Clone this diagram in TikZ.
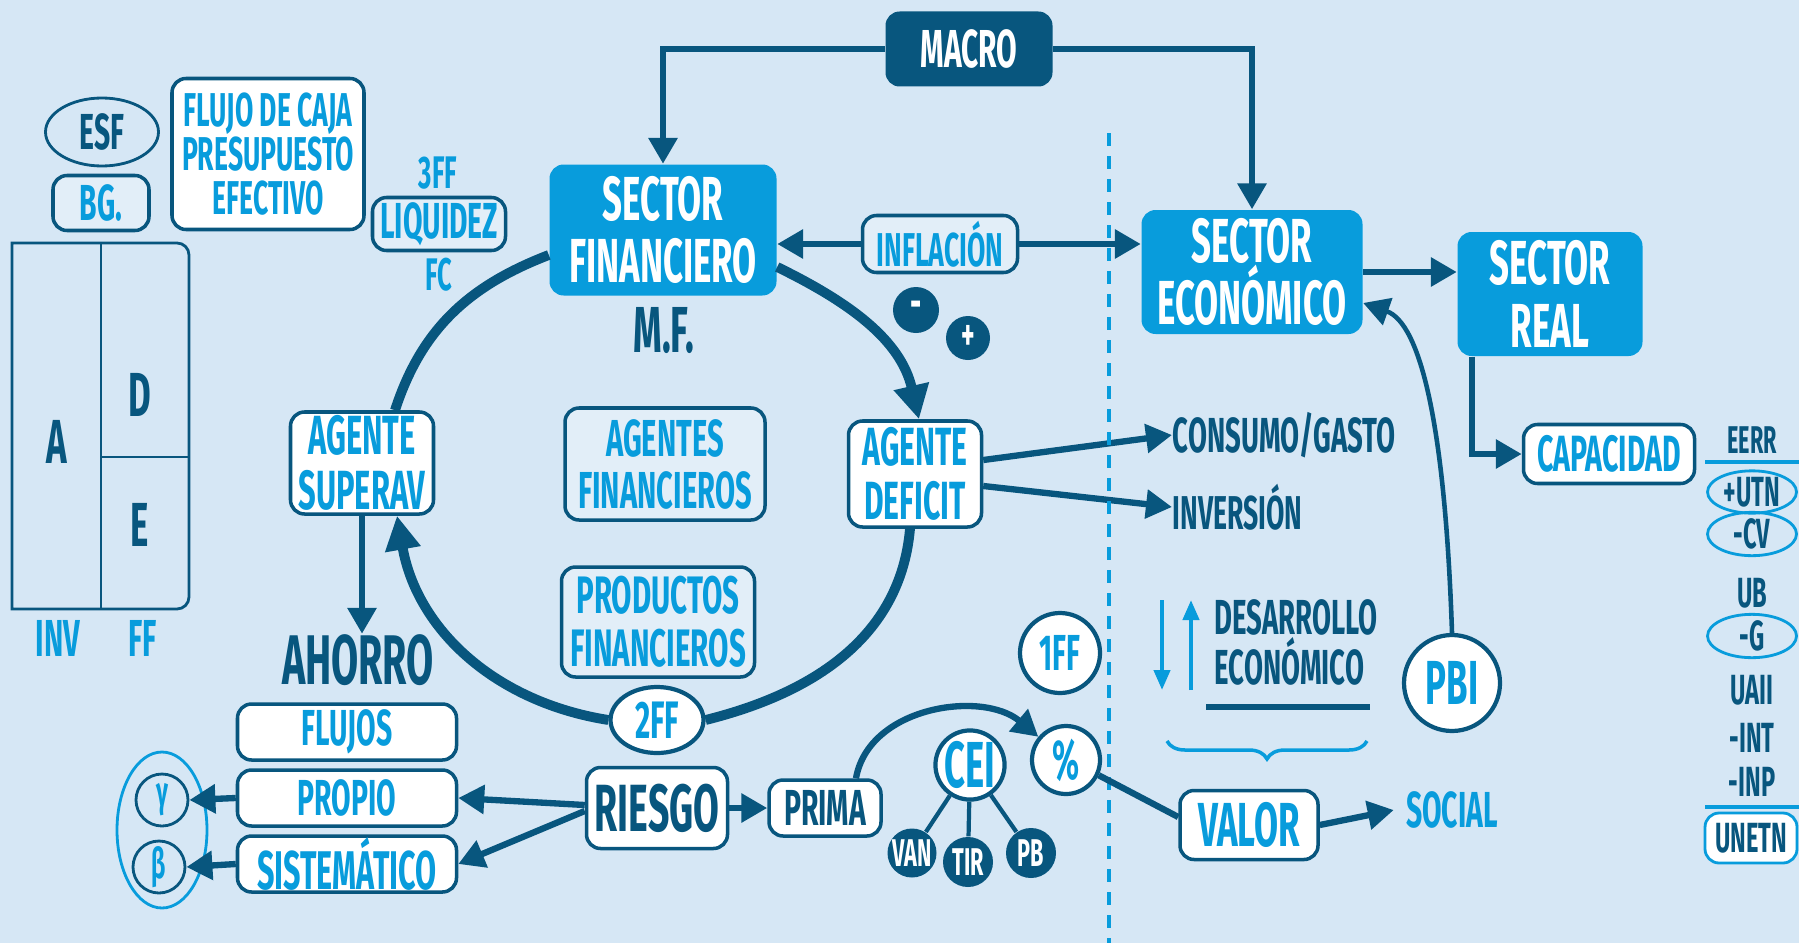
\documentclass[tikz,border=0pt]{standalone}
\usepackage{fontspec}
\setsansfont{Fira Sans}[FakeStretch=0.56]
\usetikzlibrary{arrows.meta,positioning,shapes.geometric,decorations.pathreplacing}

\definecolor{bgblue}{RGB}{214,231,245}
\definecolor{darkblue}{RGB}{8,86,126}
\definecolor{brightblue}{RGB}{8,156,220}

\begin{document}
\begin{tikzpicture}[
font=\sffamily\bfseries,
sz/.style={font=\sffamily\bfseries\fontsize{#1}{#1}\selectfont},
sector/.style={rectangle, rounded corners=4pt, fill=brightblue, text=white, align=center, inner sep=0pt},
darkbox/.style={rectangle, rounded corners=4pt, fill=darkblue, text=white, inner sep=0pt},
whitebox/.style={rectangle, rounded corners=4pt, draw=darkblue, line width=1pt, fill=white, text=brightblue, align=center, inner sep=0pt},
clearbox/.style={whitebox, fill opacity=0.3, text opacity=1},
ring/.style={circle, draw=darkblue, line width=1.2pt, fill=white, text=brightblue, inner sep=0pt},
dot/.style={circle, fill=darkblue, text=white, inner sep=0pt},
oval/.style={ellipse, draw=brightblue, line width=0.8pt, text=darkblue, inner sep=0pt, minimum width=0.89cm, minimum height=0.38cm},
label/.style={text=darkblue, inner sep=0pt},
conn/.style={draw=darkblue, line width=1.8pt, -{Triangle[length=0.26cm,width=0.28cm]}},
cyc/.style={draw=darkblue, line width=2.8pt},
cycarrow/.style={cyc, -{Triangle[length=0.34cm,width=0.34cm]}}
]
    % background
    \fill[bgblue] (0,0) rectangle (17.99,9.43);
    \useasboundingbox (0,0) rectangle (17.99,9.43);

    % balance sheet corner
    \node[ellipse, draw=darkblue, line width=0.8pt, minimum width=1.13cm, minimum height=0.68cm, label, sz=14.4] (esf) at (1.02,8.11) {ESF};
    \node[clearbox, minimum width=0.96cm, minimum height=0.55cm, sz=14.4] (bg) at (1.01,7.40) {BG.};
    \node[whitebox, minimum width=1.92cm, minimum height=1.51cm, font=\sffamily\bfseries\fontsize{13.5}{12.6}\selectfont] (caja) at (2.68,7.89) {FLUJO DE CAJA\\PRESUPUESTO\\EFECTIVO};
    \node[text=brightblue, sz=13] (ff3) at (4.38,7.70) {3FF};
    \node[clearbox, minimum width=1.33cm, minimum height=0.53cm, sz=14.4] (liq) at (4.39,7.19) {LIQUIDEZ};
    \node[text=brightblue, sz=13] (fc) at (4.39,6.68) {FC};

    \draw[darkblue, line width=0.8pt] (0.12,3.34) -- (0.12,7.00) -- (1.77,7.00)
        arc[start angle=90, end angle=0, radius=0.12] -- (1.89,3.46)
        arc[start angle=0, end angle=-90, radius=0.12] -- cycle;
    \draw[darkblue, line width=0.8pt] (1.01,7.00) -- (1.01,3.34);
    \draw[darkblue, line width=0.8pt] (1.01,4.86) -- (1.89,4.86);
    \node[label, sz=17.7] (a) at (0.57,5.01) {A};
    \node[label, sz=17.7] (d) at (1.40,5.48) {D};
    \node[label, sz=17.7] (e) at (1.40,4.18) {E};
    \node[text=brightblue, sz=14.8] (inv) at (0.58,3.05) {INV};
    \node[text=brightblue, sz=14.8] (ff) at (1.43,3.05) {FF};

    % top sectors
    \node[darkbox, minimum width=1.67cm, minimum height=0.75cm, sz=15.2] (macro) at (9.69,8.94) {MACRO};
    \node[sector, minimum width=2.27cm, minimum height=1.31cm, sz=17.7] (sf) at (6.63,7.13) {SECTOR\\FINANCIERO};
    \node[label, sz=18.5] (mf) at (6.64,6.12) {M.F.};
    \node[clearbox, minimum width=1.55cm, minimum height=0.57cm, sz=13.5] (infl) at (9.40,6.99) {INFLACIÓN};
    \node[dot, minimum size=0.46cm, sz=14] (minus) at (9.16,6.33) {-};
    \node[dot, minimum size=0.44cm, sz=13] (plus) at (9.68,6.05) {+};
    \node[sector, minimum width=2.21cm, minimum height=1.24cm, sz=17.7] (se) at (12.52,6.71) {SECTOR\\ECONÓMICO};
    \node[sector, minimum width=1.85cm, minimum height=1.24cm, sz=17.7] (sr) at (15.50,6.49) {SECTOR\\REAL};
    \node[whitebox, minimum width=1.71cm, minimum height=0.59cm, sz=14.5] (cap) at (16.09,4.89) {CAPACIDAD};

    \draw[conn] (macro.west) -| (sf.north);
    \draw[conn] (macro.east) -| (se.north);
    \draw[conn] (infl.west) -- (infl.west -| sf.east);
    \draw[conn] (infl.east) -- (infl.east -| se.west);
    \draw[conn] (se.east) -- (se.east -| sr.west);
    \draw[conn] ([xshift=-0.78cm]sr.south) |- (cap.west);

    % income statement column
    \node[label, sz=11] (eerr) at (17.52,5.03) {EERR};
    \draw[brightblue, line width=0.9pt] (17.05,4.81) -- (17.99,4.81);
    \node[oval, sz=12] (utn) at (17.52,4.51) {+UTN};
    \node[oval, sz=12] (cv) at (17.52,4.09) {-CV};
    \node[label, sz=12] (ub) at (17.52,3.50) {UB};
    \node[oval, sz=12] (g) at (17.52,3.07) {-G};
    \node[label, sz=12] (uaii) at (17.52,2.53) {UAII};
    \node[label, sz=12] (int) at (17.52,2.05) {-INT};
    \node[label, sz=12] (inp) at (17.52,1.61) {-INP};
    \draw[brightblue, line width=0.9pt] (17.05,1.36) -- (17.99,1.36);
    \node[rectangle, rounded corners=4pt, draw=brightblue, line width=0.8pt, fill=white, label, minimum width=0.92cm, minimum height=0.5cm, sz=12] (unetn) at (17.51,1.05) {UNETN};

    % financial circuit
    \node[clearbox, minimum width=2.00cm, minimum height=1.12cm, sz=14.8] (agf) at (6.65,4.79) {AGENTES\\FINANCIEROS};
    \node[clearbox, minimum width=1.93cm, minimum height=1.10cm, sz=15] (prod) at (6.58,3.21) {PRODUCTOS\\FINANCIEROS};
    \node[whitebox, minimum width=1.33cm, minimum height=1.06cm, sz=15.3] (ad) at (9.15,4.69) {AGENTE\\DEFICIT};
    \node[whitebox, minimum width=1.43cm, minimum height=1.02cm, sz=15.7] (as) at (3.62,4.80) {AGENTE\\SUPERAV};
    \node[label, sz=20] (ahorro) at (3.58,2.83) {AHORRO};
    \node[ellipse, draw=darkblue, line width=1.2pt, fill=white, text=brightblue, inner sep=0pt, minimum width=0.93cm, minimum height=0.66cm, sz=15] (ff2) at (6.57,2.23) {2FF};
    \node[ring, minimum size=0.80cm, sz=14.4] (ff1) at (10.60,2.90) {1FF};

    \draw[cycarrow] ([yshift=-0.37cm]sf.east) to[out=-26, in=103] ([xshift=0.04cm]ad.north);
    \draw[cyc] ([xshift=-0.05cm]ad.south) to[out=-95, in=14] (ff2.east);
    \draw[cycarrow] (ff2.west) to[out=171, in=-80] ([xshift=0.35cm]as.south);
    \draw[cyc] ([xshift=0.33cm]as.north) to[out=72, in=-159] ([yshift=-0.25cm]sf.west);
    \draw[conn] (as.south) -- (as.south |- ahorro.north);

    % spending side
    \node[label, anchor=west, sz=14] (consumo) at (11.72,5.08) {CONSUMO/GASTO};
    \node[label, anchor=west, sz=13.5] (inversion) at (11.72,4.36) {INVERSIÓN};
    \draw[conn] ([yshift=0.14cm]ad.east) -- (consumo.west);
    \draw[conn] ([yshift=-0.12cm]ad.east) -- (inversion.west);

    \draw[brightblue, line width=1.1pt, dash pattern=on 0.13cm off 0.1cm] (11.09,8.10) -- (11.09,0);

    % development
    \node[label, anchor=west, align=left, font=\sffamily\bfseries\fontsize{14}{14.2}\selectfont] (desarrollo) at (12.14,3.01) {DESARROLLO\\ECONÓMICO};
    \coordinate (dtop) at (11.62,3.43);
    \coordinate (dbot) at (11.62,2.53);
    \coordinate (utop) at (11.91,3.43);
    \coordinate (ubot) at (11.91,2.53);
    \draw[brightblue, line width=1.2pt, -{Triangle[length=0.2cm,width=0.16cm]}] (dtop) -- (dbot);
    \draw[brightblue, line width=1.2pt, -{Triangle[length=0.2cm,width=0.16cm]}] (ubot) -- (utop);
    \draw[darkblue, line width=1.8pt] (12.06,2.36) -- (13.70,2.36);
    \draw[brightblue, line width=1pt, decorate, decoration={brace, mirror, amplitude=0.18cm}] (11.67,2.02) -- (13.67,2.02);
    \node[ring, minimum size=0.96cm, sz=17.7] (pbi) at (14.52,2.60) {PBI};
    \draw[conn, line width=1.3pt] (pbi.north) .. controls (14.45,5.2) and (14.2,6.2) .. ([yshift=-0.31cm]se.east);

    % risk and value
    \node[whitebox, minimum width=2.19cm, minimum height=0.56cm, sz=14.4] (flujos) at (3.47,2.11) {FLUJOS};
    \node[whitebox, minimum width=2.19cm, minimum height=0.56cm, sz=14.4] (propio) at (3.47,1.45) {PROPIO};
    \node[whitebox, minimum width=2.19cm, minimum height=0.56cm, sz=15.5] (sist) at (3.47,0.79) {SISTEMÁTICO};
    \node[circle, draw=darkblue, line width=0.8pt, text=brightblue, inner sep=0pt, minimum size=0.52cm, sz=12] (gamma) at (1.62,1.43) {γ};
    \node[circle, draw=darkblue, line width=0.8pt, text=brightblue, inner sep=0pt, minimum size=0.52cm, sz=12] (beta) at (1.59,0.76) {β};
    \node[ellipse, draw=brightblue, line width=0.8pt, minimum width=0.90cm, minimum height=1.56cm] (greek) at (1.62,1.13) {};
    \node[whitebox, text=darkblue, minimum width=1.41cm, minimum height=0.81cm, sz=19] (riesgo) at (6.57,1.35) {RIESGO};
    \node[whitebox, text=darkblue, minimum width=1.12cm, minimum height=0.56cm, sz=14.4] (prima) at (8.25,1.35) {PRIMA};
    \node[ring, minimum size=0.68cm, sz=18.5] (cei) at (9.70,1.78) {CEI};
    \node[ring, minimum size=0.68cm, sz=16] (pct) at (10.66,1.83) {\%};
    \node[dot, minimum size=0.49cm, sz=11] (van) at (9.12,0.90) {VAN};
    \node[dot, minimum size=0.50cm, sz=11] (tir) at (9.68,0.81) {TIR};
    \node[dot, minimum size=0.50cm, sz=11] (pb) at (10.31,0.90) {PB};
    \node[whitebox, minimum width=1.38cm, minimum height=0.69cm, sz=17.7] (valor) at (12.49,1.18) {VALOR};
    \node[text=brightblue, sz=14.4] (social) at (14.52,1.33) {SOCIAL};

    \draw[conn] ([yshift=0.03cm]riesgo.west) -- (propio.east);
    \draw[conn] ([yshift=-0.03cm]riesgo.west) -- (sist.east);
    \draw[conn] (propio.west) -- (gamma.east);
    \draw[conn] (sist.west) -- (beta.east);
    \draw[conn] (riesgo.east) -- (prima.west);
    \draw[conn] ([xshift=0.31cm]prima.north) to[out=80, in=140] (pct.140);
    \draw[darkblue, line width=1.8pt] (pct.-25) -- ([yshift=0.08cm]valor.west);
    \draw[conn] (valor.east) -- (social.west);
    \draw[darkblue, line width=1.2pt] (cei) -- (van);
    \draw[darkblue, line width=1.2pt] (cei) -- (tir);
    \draw[darkblue, line width=1.2pt] (cei) -- (pb);

\end{tikzpicture}
\end{document}
